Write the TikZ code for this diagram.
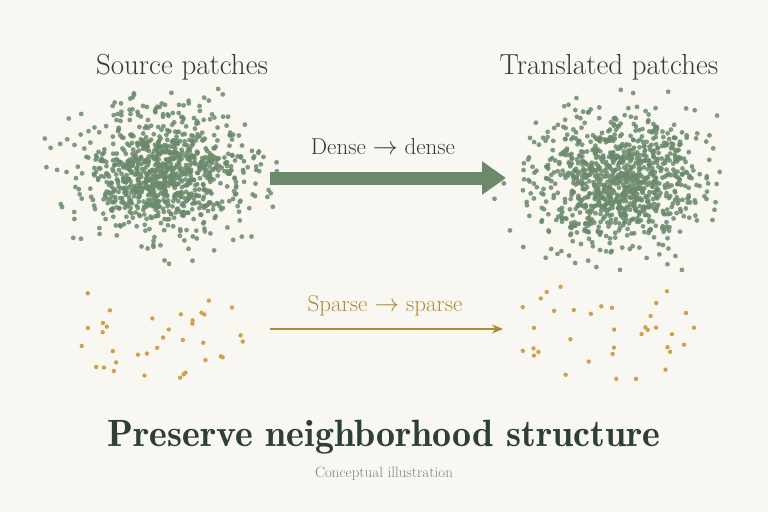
\documentclass[tikz,border=0pt]{standalone}
\usepackage{tikz}
\usetikzlibrary{arrows.meta}
\definecolor{bgcol}{HTML}{F8F7F2}
\definecolor{densecol}{HTML}{6B8A6B}
\definecolor{sparsecol}{HTML}{D2A048}
\definecolor{sparsearrow}{HTML}{B08836}
\definecolor{titlecol}{HTML}{2E4036}
\begin{document}
\begin{tikzpicture}[x=1pt, y=-1pt,
	head/.style={font=\fontsize{29}{32}\selectfont, text=titlecol},
	flowlabel/.style={font=\fontsize{23}{25}\selectfont}]
		% Background and bounding box
		\fill[bgcol] (0,0) rectangle (768,512);
		\useasboundingbox (0,0) rectangle (768,512);
		\pgfmathsetseed{42}

		% Dense clusters
		\foreach \cx/\cy in {165/172, 620/182}{
			\foreach \i in {1,...,1000}{
				\pgfmathsetmacro{\u}{rnd*0.995+0.005}
				\pgfmathsetmacro{\v}{rnd}
				\pgfmathsetmacro{\rr}{sqrt(-2*ln(\u))}
				\fill[densecol, opacity=0.85] ({\cx+40*\rr*cos(360*\v)},{\cy+31*\rr*sin(360*\v)}) circle (2.4);
			}
		}

		% Sparse clusters
		\foreach \cx/\cy in {155/330, 605/330}{
			\foreach \i in {1,...,36}{
				\pgfmathsetmacro{\r}{sqrt(rnd)}
				\pgfmathsetmacro{\v}{rnd}
				\fill[sparsecol] ({\cx+90*\r*cos(360*\v)},{\cy+58*\r*sin(360*\v)}) circle (2.2);
			}
		}

		% Titles
		\node[head] (src) at (182,67) {Source patches};
		\node[head] (trg) at (609,67) {Translated patches};

		% Arrows
		\coordinate (dA) at (270,178);
		\coordinate (dB) at (506,178);
		\draw[densecol, line width=13pt, -{Triangle[length=24pt,width=32pt]}] (dA) -- (dB);
		\node[flowlabel, text=titlecol] (dlab) at (383,147) {Dense $\rightarrow$ dense};

		\coordinate (sA) at (270,329);
		\coordinate (sB) at (503,329);
		\draw[sparsearrow, line width=1.6pt, -{Stealth[length=11pt,width=9pt]}] (sA) -- (sB);
		\node[flowlabel, text=sparsearrow] (slab) at (385,306) {Sparse $\rightarrow$ sparse};

		% Caption
		\node[font=\fontsize{38}{42}\fontseries{b}\selectfont, text=titlecol] (cap) at (384,437) {Preserve neighborhood structure};
		\node[font=\fontsize{15}{17}\selectfont, text=gray] (sub) at (384,474) {Conceptual illustration};
	\end{tikzpicture}
\end{document}
